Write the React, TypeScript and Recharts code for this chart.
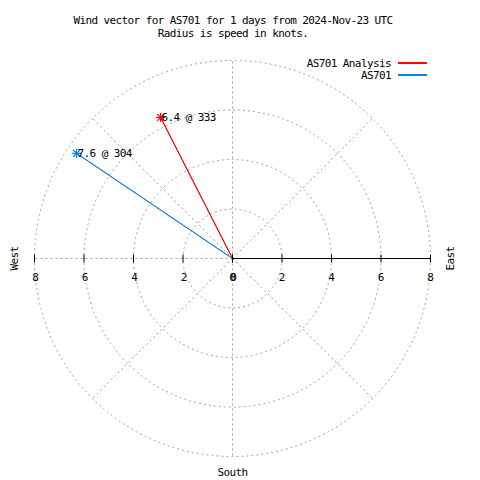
import React from 'react';
import {
  RadarChart,
  PolarGrid,
  PolarAngleAxis,
  PolarRadiusAxis,
  Radar,
  Legend,
} from 'recharts';

const titleLines = [
  'Wind vector for AS701 for 1 days from 2024-Nov-23 UTC',
  'Radius is speed in knots.',
];
const seriesNames = ['AS701 Analysis', 'AS701'];
const seriesColors = ['#ff0000', '#0a80f0'];
const directions = [333, 304];
const speeds = [6.4, 7.6];
const radiusTicks = [0, 2, 4, 6, 8];
const angleTicks = [0, 45, 90, 135, 180, 225, 270, 315];
const compassLabels: Record<number, string> = { 90: 'East', 180: 'South', 270: 'West' };

const FONT = '"DejaVu Sans Mono", monospace';
const CX = 232.5;
const CY = 258.5;
const R = 198;

const seriesKeys = seriesNames.map((_, i) => `s${i}`);
// each vector is a line from the centre (speed 0) to the tip
const chartData = directions.flatMap((dir, i) => [
  { dir, [seriesKeys[i]]: 0 },
  { dir, [seriesKeys[i]]: speeds[i] },
]);

const Star = ({ x, y, color }: { x: number; y: number; color: string }) => (
  <g stroke={color} strokeWidth={1.2}>
    <line x1={x - 4.5} y1={y} x2={x + 4.5} y2={y} />
    <line x1={x} y1={y - 4.5} x2={x} y2={y + 4.5} />
    <line x1={x - 3.5} y1={y - 3.5} x2={x + 3.5} y2={y + 3.5} />
    <line x1={x - 3.5} y1={y + 3.5} x2={x + 3.5} y2={y - 3.5} />
  </g>
);

const makeDot = (i: number) => (props: any) => {
  const { cx, cy, value, index } = props;
  if (!value || !isFinite(cx) || !isFinite(cy)) return <g key={`d${i}-${index}`} />;
  return (
    <g key={`d${i}-${index}`}>
      <Star x={cx} y={cy} color={seriesColors[i]} />
      <text x={cx + 1} y={cy + 4} fontFamily={FONT} fontSize={11} letterSpacing={-0.6} fill="#000">
        {`${speeds[i]} @ ${directions[i]}`}
      </text>
    </g>
  );
};

// the radius axis is drawn east; its ticks are mirrored to the west side as well
const RadiusTick = (props: any) => {
  const { x, y, payload } = props;
  const wx = 2 * CX - x;
  return (
    <g>
      {[x, wx].map((px, j) => (
        <g key={j}>
          <line x1={px} y1={y - 4} x2={px} y2={y + 4} stroke="#000" />
          <text x={px + (j ? 1 : 0)} y={y + 22} textAnchor="middle" fontFamily={FONT} fontSize={11} fill="#000">
            {payload.value}
          </text>
        </g>
      ))}
    </g>
  );
};

const CompassTick = (props: any) => {
  const { x, y, payload } = props;
  const label = compassLabels[payload.value];
  if (!label) return <g />;
  const dx = x - CX;
  const dy = y - CY;
  const d = Math.hypot(dx, dy) || 1;
  const extra = label === 'South' ? 8 : 12;
  const tx = x + (dx / d) * extra;
  const ty = y + (dy / d) * extra;
  const vertical = label !== 'South';
  return (
    <text
      x={tx}
      y={ty}
      textAnchor="middle"
      dominantBaseline="central"
      transform={vertical ? `rotate(-90, ${tx}, ${ty})` : undefined}
      fontFamily={FONT}
      fontSize={11}
      letterSpacing={-0.6}
      fill="#000"
    >
      {label}
    </text>
  );
};

const LegendContent = () => (
  <div style={{ fontFamily: FONT, fontSize: 11, letterSpacing: -0.6 }}>
    {seriesNames.map((name, i) => (
      <div
        key={name}
        style={{ display: 'flex', justifyContent: 'flex-end', alignItems: 'center', height: 12 }}
      >
        <span>{name}</span>
        <div
          style={{
            width: 29,
            height: 2,
            marginLeft: 7,
            backgroundColor: seriesColors[i],
          }}
        />
      </div>
    ))}
  </div>
);

const App: React.FC = () => {
  return (
    <div style={{ position: 'absolute', left: 0, top: 0, width: 480, height: 480, background: '#fff' }}>
      <div
        style={{
          position: 'absolute',
          top: 14,
          left: 0,
          width: 466,
          textAlign: 'center',
          fontFamily: FONT,
          fontSize: 11,
          letterSpacing: -0.6,
          lineHeight: '13px',
          zIndex: 2,
        }}
      >
        {titleLines.map((t) => (
          <div key={t}>{t}</div>
        ))}
      </div>
      <RadarChart
        width={480}
        height={480}
        data={chartData}
        cx={CX}
        cy={CY}
        innerRadius={0}
        outerRadius={R}
        startAngle={90}
        endAngle={-270}
        margin={{ top: 0, right: 0, bottom: 0, left: 0 }}
      >
        <PolarGrid gridType="circle" stroke="#a0a0a0" strokeDasharray="2 3" />
        <PolarAngleAxis
          dataKey="dir"
          type="number"
          domain={[0, 360]}
          ticks={angleTicks}
          axisLine={false}
          tickLine={false}
          tick={<CompassTick />}
        />
        <PolarRadiusAxis
          angle={0}
          domain={[0, 8]}
          ticks={radiusTicks}
          axisLine={{ stroke: '#000' }}
          tick={<RadiusTick />}
        />
        {seriesKeys.map((k, i) => (
          <Radar
            key={k}
            name={seriesNames[i]}
            dataKey={k}
            stroke={seriesColors[i]}
            fill="none"
            fillOpacity={0}
            connectNulls
            dot={makeDot(i)}
            isAnimationActive={false}
          />
        ))}
        <Legend
          layout="vertical"
          align="right"
          verticalAlign="top"
          wrapperStyle={{ top: 57, right: 53 }}
          content={<LegendContent />}
        />
      </RadarChart>
    </div>
  );
};

export default App;
